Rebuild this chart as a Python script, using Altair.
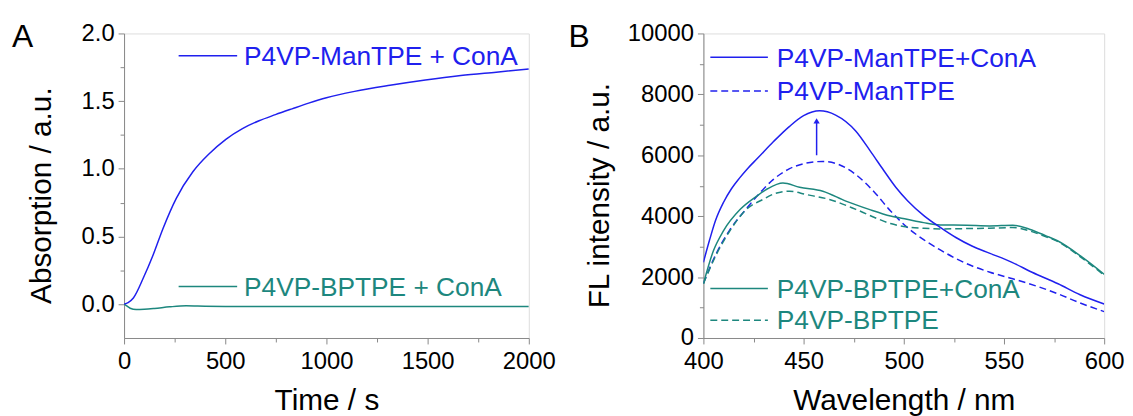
import altair as alt
import pandas as pd

FONT = "Liberation Sans"
BLUE = "#2020ee"
TEAL = "#1d877e"

# ---------------- Panel A: absorption vs time ----------------
time_man = [0, 20, 46, 95, 144, 193, 258, 340, 422, 503, 585, 667, 748, 830, 912,
            1000, 1139, 1314, 1489, 1664, 1839, 2000]
abs_man = [0, 0.012, 0.046, 0.193, 0.365, 0.561, 0.782, 0.978, 1.113, 1.218, 1.297,
           1.355, 1.40, 1.443, 1.485, 1.525, 1.572, 1.617, 1.656, 1.689, 1.714, 1.737]
time_bp = [0, 15, 30, 60, 100, 150, 225, 307, 400, 500, 700, 1000, 1500, 2000]
abs_bp = [0, -0.015, -0.03, -0.04, -0.038, -0.032, -0.02, -0.012, -0.015, -0.017,
          -0.018, -0.018, -0.018, -0.018]
names_A = ["P4VP-ManTPE + ConA", "P4VP-BPTPE + ConA"]

# ---------------- Panel B: FL spectra ----------------
wl_man_cona = [400, 403, 406, 410, 414, 418, 422, 427, 435, 443, 450, 458, 466, 476,
               484, 490, 496, 502, 510, 518, 526, 534, 543, 554, 564, 577, 588, 600]
fl_man_cona = [2485, 3200, 3850, 4450, 4900, 5250, 5560, 5900, 6450, 6950, 7300, 7460,
               7320, 6800, 6070, 5500, 4950, 4500, 4020, 3640, 3300, 3020, 2780, 2485,
               2160, 1780, 1420, 1116]
wl_man = [400, 406.6, 413.2, 421.5, 428.2, 434.8, 443, 451.3, 459.6, 467.8, 476.1, 486,
          493.4, 501.6, 509.9, 518, 531, 543, 554.4, 567.7, 576.7, 588, 600]
fl_man = [1800, 2800, 3550, 4250, 4766, 5200, 5559, 5742, 5797, 5689, 5363, 4740,
          4169, 3640, 3230, 2900, 2450, 2160, 1944, 1671, 1456, 1150, 867]
wl_bp_cona = [400, 405, 410, 418.4, 426.6, 432, 439.7, 448, 459.6, 471.1, 482.7, 493.4,
              501.6, 509.9, 518.2, 531.3, 542.9, 554.4, 562.7, 571, 576.7, 589, 600]
fl_bp_cona = [1781, 2866, 3518, 4224, 4657, 4900, 5091, 4951, 4820, 4495, 4224, 4006,
              3898, 3788, 3713, 3703, 3680, 3703, 3573, 3355, 3192, 2654, 2091]
wl_bp = [400, 406.6, 413.2, 421.5, 429.7, 436, 443, 451.3, 462.9, 476.1, 487.6, 493.4,
         501.6, 509.9, 518.2, 531.3, 542.9, 554.4, 562.7, 571, 576.7, 589, 600]
fl_bp = [1781, 2757, 3518, 4224, 4549, 4750, 4820, 4711, 4549, 4224, 3898, 3757,
         3648, 3604, 3582, 3593, 3604, 3625, 3518, 3322, 3170, 2620, 2060]
names_B = ["P4VP-ManTPE+ConA", "P4VP-ManTPE", "P4VP-BPTPE+ConA", "P4VP-BPTPE"]

arrow_wl = [456.5]
arrow_from = [6000]
arrow_to = [7130]

DASH = [7, 4]
LW = 1.5
LABEL_FS = 24
TITLE_FS = 30
LEGEND_FS = 26.5


def major_axis(orient, values, fmt, title, tx=None, ty=None):
    kw = dict(orient=orient, values=values, format=fmt, title=title, grid=False,
              tickSize=6, labelFontSize=LABEL_FS,
              titleFontSize=TITLE_FS, titleFontWeight="normal",
              labelFont=FONT, titleFont=FONT,
              labelFlush=False, labelOverlap=False)
    if orient == "left":
        kw.update(titleAngle=270, titleAlign="center", titleBaseline="middle",
                  titleX=tx, titleY=ty, labelPadding=4)
    else:
        kw.update(titleBaseline="alphabetic", titleY=ty, labelPadding=6)
    return alt.Axis(**kw)


def minor_axis(orient, values):
    return alt.Axis(orient=orient, values=values, labels=False, domain=False,
                    grid=False, tickSize=4, title=None)


def panel(series, xs, ys, axx, axy, minx, miny, legend, letter, letter_x, extra,
          w, h):
    layers = []
    for (xv, yv, color, dash) in series:
        df = pd.DataFrame({"x": xv, "y": yv})
        mk = dict(color=color, strokeWidth=LW, clip=True, interpolate="monotone")
        if dash:
            mk["strokeDash"] = dash
        layers.append(alt.Chart(df).mark_line(**mk).encode(
            x=alt.X("x:Q", scale=xs, axis=axx), y=alt.Y("y:Q", scale=ys, axis=axy)))
    for e in extra:
        layers.append(e(xs, ys, axx, axy))
    for (name, color, dash, x0, x1, ly, tx) in legend:
        ldf = pd.DataFrame({"n": [name]})
        rk = dict(color=color, strokeWidth=LW)
        if dash:
            rk["strokeDash"] = dash
        layers.append(alt.Chart(ldf).mark_rule(**rk).encode(
            x=alt.value(x0), x2=alt.value(x1), y=alt.value(ly)))
        layers.append(alt.Chart(ldf).mark_text(
            align="left", baseline="alphabetic", fontSize=LEGEND_FS, font=FONT,
            color=color).encode(x=alt.value(tx), y=alt.value(ly + 9.4), text="n:N"))
    layers.append(alt.Chart(pd.DataFrame({"n": [letter]})).mark_text(
        align="left", baseline="alphabetic", fontSize=32, font=FONT,
        color="black").encode(x=alt.value(letter_x), y=alt.value(13.5), text="n:N"))
    inner = alt.layer(*layers)
    mdf = pd.DataFrame({"x": series[0][0], "y": series[0][1]})
    minor = alt.Chart(mdf).mark_line(opacity=0).encode(
        x=alt.X("x:Q", scale=xs, axis=minx), y=alt.Y("y:Q", scale=ys, axis=miny))
    return alt.layer(minor, inner).resolve_axis(x="independent", y="independent") \
        .properties(width=w, height=h)


# Panel A
xsA = alt.Scale(domain=[0, 2000], nice=False, zero=False)
ysA = alt.Scale(domain=[-0.25, 2.0], nice=False, zero=False)
axxA = major_axis("bottom", [0, 500, 1000, 1500, 2000], "d", "Time / s", ty=72)
axyA = major_axis("left", [0, 0.5, 1.0, 1.5, 2.0], ".1f", "Absorption / a.u.",
                  tx=-83, ty=163)
panelA = panel(
    [(time_bp, abs_bp, TEAL, None), (time_man, abs_man, BLUE, None)],
    xsA, ysA, axxA, axyA,
    minor_axis("bottom", [250, 750, 1250, 1750]),
    minor_axis("left", [0.25, 0.75, 1.25, 1.75]),
    [(names_A[0], BLUE, None, 55, 114, 22.5, 121),
     (names_A[1], TEAL, None, 55, 114, 255, 121)],
    "A", -113, [], 408, 307)

# Panel B
xsB = alt.Scale(domain=[400, 600], nice=False, zero=False)
ysB = alt.Scale(domain=[0, 10000], nice=False, zero=False)
axxB = major_axis("bottom", [400, 450, 500, 550, 600], "d", "Wavelength / nm", ty=72)
axyB = major_axis("left", [0, 2000, 4000, 6000, 8000, 10000], "d",
                  "FL intensity / a.u.", tx=-105, ty=163)


def arrow_rule(xs, ys, axx, axy):
    df = pd.DataFrame({"x": arrow_wl, "y": arrow_from, "y2": arrow_to})
    return alt.Chart(df).mark_rule(color=BLUE, strokeWidth=LW).encode(
        x=alt.X("x:Q", scale=xs, axis=axx), y=alt.Y("y:Q", scale=ys, axis=axy),
        y2="y2:Q")


def arrow_head(xs, ys, axx, axy):
    df = pd.DataFrame({"x": arrow_wl, "y": arrow_to})
    return alt.Chart(df).mark_point(shape="triangle-up", filled=True, size=40,
                                    color=BLUE, opacity=1).encode(
        x=alt.X("x:Q", scale=xs, axis=axx), y=alt.Y("y:Q", scale=ys, axis=axy))


panelB = panel(
    [(wl_man, fl_man, BLUE, DASH), (wl_bp, fl_bp, TEAL, DASH),
     (wl_bp_cona, fl_bp_cona, TEAL, None), (wl_man_cona, fl_man_cona, BLUE, None)],
    xsB, ysB, axxB, axyB,
    minor_axis("bottom", [425, 475, 525, 575]),
    minor_axis("left", [1000, 3000, 5000, 7000, 9000]),
    [(names_B[0], BLUE, None, 7, 65, 24, 74),
     (names_B[1], BLUE, DASH, 7, 65, 58, 74),
     (names_B[2], TEAL, None, 7, 65, 257, 74),
     (names_B[3], TEAL, DASH, 7, 65, 289, 74)],
    "B", -136, [arrow_rule, arrow_head], 404, 307)

chart = alt.hconcat(panelA, panelB, spacing=176, bounds="flush").properties(
    padding={"left": 3, "top": 11, "right": 0, "bottom": 0}
).configure_view(stroke="black", strokeWidth=1.5).configure_axis(
    labelFont=FONT, titleFont=FONT, labelColor="#111", titleColor="#111",
    titleFontWeight="normal", domainColor="black", tickColor="black",
    domainWidth=1.5, tickWidth=1.5
).configure(background="white")

chart.save("out.html", embed_options={"renderer": "svg", "actions": False})
